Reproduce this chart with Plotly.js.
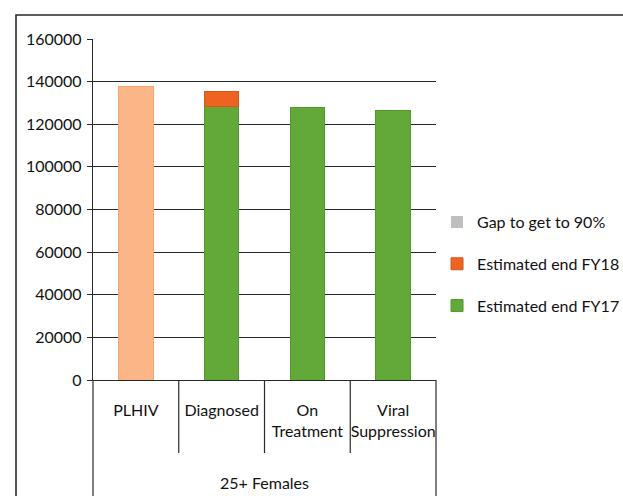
<!DOCTYPE html>
<html>
<head>
<meta charset="utf-8">
<script src="https://cdn.plot.ly/plotly-3.0.1.min.js"></script>
<style>
html,body{margin:0;padding:0;background:#fff;}
#chart{width:623px;height:496px;}
</style>
</head>
<body>
<div id="chart"></div>
<script>
// ---- data ----
var categories = ["PLHIV", "Diagnosed", "On Treatment", "Viral Suppression"];
var tickLabels = ["PLHIV", "Diagnosed", "On<br>Treatment", "Viral<br>Suppression"];
var groupLabel = "25+ Females";
var plhivValues = [137500, null, null, null];
var fy17Values = [null, 128200, 127900, 126500];
var fy18Values = [null, 7000, null, null];
var gapValues = [null, null, null, null];
var seriesNames = ["Estimated end FY17", "Estimated end FY18", "Gap to get to 90%"];
var yTicks = [0, 20000, 40000, 60000, 80000, 100000, 120000, 140000, 160000];

var FONT = "Lato, 'Liberation Sans Narrow', sans-serif";
var LINE = "#2a2a2a";
var FS = 16;

var traces = [
  {type: "bar", x: categories, y: plhivValues, name: "PLHIV", showlegend: false,
   marker: {color: "#fbb586", line: {color: "#f4a46e", width: 1}}, legendgroup: "p"},
  {type: "bar", x: categories, y: fy17Values, name: seriesNames[0], legendrank: 3,
   marker: {color: "#62a93a", line: {color: "#4e9a2a", width: 1}}, legendgroup: "a"},
  {type: "bar", x: categories, y: fy18Values, name: seriesNames[1], legendrank: 2,
   marker: {color: "#ec6420", line: {color: "#d9561a", width: 1}}, legendgroup: "b"},
  {type: "bar", x: categories, y: gapValues, name: seriesNames[2], legendrank: 1,
   marker: {color: "#bfbfbf", line: {width: 0}}, legendgroup: "c"}
];

var shapes = [];
for (var i = 1; i < categories.length; i++) {
  shapes.push({type: "line", xref: "paper", yref: "paper",
    x0: i / categories.length, x1: i / categories.length, y0: 0, y1: -0.214,
    line: {color: LINE, width: 1.2}});
}
shapes.push({type: "line", xref: "paper", yref: "paper", x0: 0, x1: 0, y0: 0, y1: -0.4,
  line: {color: LINE, width: 1.2}});
shapes.push({type: "line", xref: "paper", yref: "paper", x0: 1, x1: 1, y0: 0, y1: -0.4,
  line: {color: LINE, width: 1.2}});
shapes.push({type: "path", xref: "paper", yref: "paper",
  path: "M -0.2245 -0.5 L -0.2245 1.0704 L 1.8 1.0704",
  line: {color: LINE, width: 1.6}});

var layout = {
  width: 623, height: 496,
  margin: {l: 93, r: 187, t: 39, b: 116, autoexpand: false},
  paper_bgcolor: "#ffffff", plot_bgcolor: "#ffffff",
  font: {family: FONT, size: FS, color: "#111111"},
  barmode: "stack",
  bargap: 0.6,
  showlegend: true,
  legend: {x: 1.003, xanchor: "left", y: 0.34, yanchor: "middle",
    traceorder: "grouped", tracegroupgap: 18,
    font: {family: FONT, size: FS, color: "#111111"}, bgcolor: "rgba(0,0,0,0)"},
  xaxis: {type: "category", categoryorder: "array", categoryarray: categories,
    tickvals: categories, ticktext: tickLabels, ticks: "", showgrid: false,
    tickangle: 0, automargin: false,
    showline: true, linecolor: LINE, linewidth: 1.2, zeroline: false,
    ticklabelstandoff: 16, fixedrange: true,
    tickfont: {family: FONT, size: FS, color: "#111111"}},
  yaxis: {range: [0, 160000], tickvals: yTicks, ticktext: yTicks.map(String),
    automargin: false,
    showgrid: true, gridcolor: LINE, gridwidth: 1, zeroline: false,
    showline: true, linecolor: LINE, linewidth: 1.2,
    ticks: "outside", ticklen: 5, tickcolor: LINE, tickwidth: 1,
    ticklabelstandoff: 2, fixedrange: true,
    tickfont: {family: FONT, size: FS, color: "#111111"}},
  shapes: shapes,
  annotations: [{text: groupLabel, xref: "paper", yref: "paper", x: 0.5, y: -0.3,
    showarrow: false, xanchor: "center", yanchor: "middle",
    font: {family: FONT, size: FS, color: "#111111"}}]
};

Plotly.newPlot("chart", traces, layout, {staticPlot: true, displayModeBar: false});
</script>
</body>
</html>
